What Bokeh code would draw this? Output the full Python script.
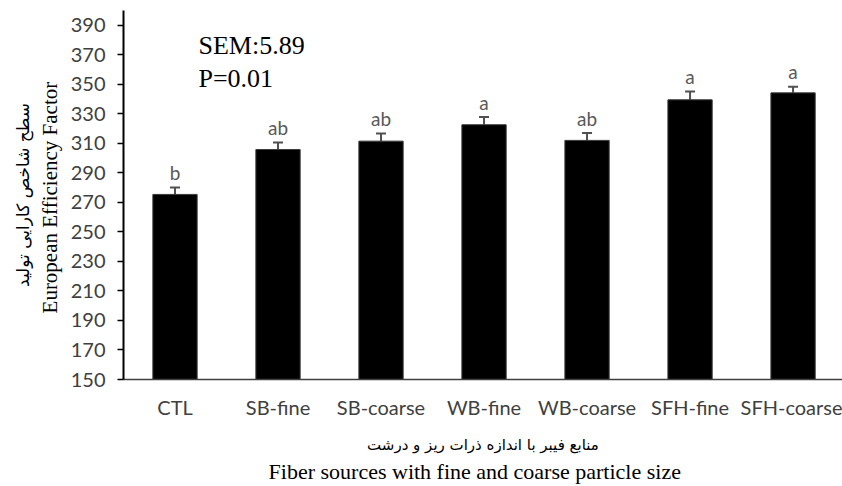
from bokeh.plotting import figure
from bokeh.models import (ColumnDataSource, Whisker, TeeHead, LinearAxis, FixedTicker,
                          Label, Range1d)
from bokeh.core.properties import value
from bokeh.embed import file_html
from bokeh.resources import INLINE

# ---- data ----
categories = ["CTL", "SB-fine", "SB-coarse", "WB-fine", "WB-coarse", "SFH-fine", "SFH-coarse"]
efficiency = [275.4, 305.8, 311.5, 322.6, 312.0, 339.5, 344.2]
sem_err = [4.7, 4.7, 5.1, 5.2, 5.0, 5.6, 4.2]
letters = ["b", "ab", "ab", "a", "ab", "a", "a"]
y_ticks = [150, 170, 190, 210, 230, 250, 270, 290, 310, 330, 350, 370, 390]
sem_text = "SEM:5.89"
p_text = "P=0.01"
y_label_en = "European Efficiency  Factor"
y_label_fa = "سطح شاخص کارایی تولید"
x_label_fa = "منابع فیبر با اندازه ذرات ریز و درشت"
x_label_en = "Fiber sources with  fine  and coarse particle  size"

idx = list(range(len(categories)))
upper = [v + e for v, e in zip(efficiency, sem_err)]
src = ColumnDataSource(dict(x=idx, top=efficiency, upper=upper, letter=letters))

SANS = "Lato"
SERIF = "Liberation Serif"
ARABIC = "DejaVu Sans"

p = figure(width=842, height=486, output_backend="svg", toolbar_location=None,
           x_range=Range1d(-0.5, 6.48), y_range=Range1d(150, 400),
           min_border_left=123, min_border_right=0, min_border_top=10, min_border_bottom=60)
p.outline_line_color = None
p.xgrid.visible = False
p.ygrid.visible = False
p.background_fill_color = "white"
p.border_fill_color = "white"

p.vbar(x="x", top="top", bottom=150, width=0.43, source=src,
       fill_color="black", line_color="#3a3a3a", line_width=1)

w = Whisker(base="x", lower="top", upper="upper", source=src, dimension="height",
            line_color="#505050", line_width=2,
            upper_head=TeeHead(size=10, line_color="#505050", line_width=2),
            lower_head=None)
p.add_layout(w)

p.text(x="x", y="upper", text="letter", source=src, text_align="center",
       text_baseline="alphabetic", y_offset=-15, text_color="#595959",
       text_font=value(SANS), text_font_size="19px")

# y axis
ya = p.yaxis[0]
ya.ticker = FixedTicker(ticks=y_ticks)
ya.axis_line_color = "black"
ya.axis_line_width = 2
ya.major_tick_line_color = "black"
ya.major_tick_line_width = 1.5
ya.major_tick_out = 6
ya.major_tick_in = 0
ya.minor_tick_line_color = None
ya.major_label_text_font = SANS
ya.major_label_text_font_size = "20px"
ya.major_label_text_color = "#404040"
ya.major_label_standoff = 12
ya.axis_label = y_label_en
ya.axis_label_text_font = SERIF
ya.axis_label_text_font_size = "21px"
ya.axis_label_text_font_style = "normal"
ya.axis_label_text_color = "black"
ya.axis_label_standoff = 6

ya2 = LinearAxis(axis_label=y_label_fa, ticker=FixedTicker(ticks=[]),
                 axis_line_color=None, major_tick_line_color=None,
                 minor_tick_line_color=None, major_label_text_font_size="0px",
                 major_label_standoff=0, major_tick_out=0, major_tick_in=0,
                 axis_label_standoff=2, axis_label_text_font=ARABIC,
                 axis_label_text_font_size="17px", axis_label_text_font_style="normal",
                 axis_label_text_color="black")
p.add_layout(ya2, "left")

# x axis
xa = p.xaxis[0]
xa.ticker = FixedTicker(ticks=idx)
xa.major_label_overrides = {i: c for i, c in zip(idx, categories)}
xa.axis_line_color = "#404040"
xa.axis_line_width = 1.5
xa.major_tick_line_color = None
xa.minor_tick_line_color = None
xa.major_tick_out = 0
xa.major_tick_in = 0
xa.major_label_text_font = SANS
xa.major_label_text_font_size = "20px"
xa.major_label_text_color = "#404040"
xa.major_label_standoff = 15
xa.axis_label = x_label_fa
xa.axis_label_text_font = ARABIC
xa.axis_label_text_font_size = "15px"
xa.axis_label_text_font_style = "normal"
xa.axis_label_text_color = "black"
xa.axis_label_standoff = 14

xa2 = LinearAxis(axis_label=x_label_en, ticker=FixedTicker(ticks=[]),
                 axis_line_color=None, major_tick_line_color=None,
                 minor_tick_line_color=None, major_label_text_font_size="0px",
                 major_label_standoff=0, major_tick_out=0, major_tick_in=0,
                 axis_label_standoff=2, axis_label_text_font=SERIF,
                 axis_label_text_font_size="22px", axis_label_text_font_style="normal",
                 axis_label_text_color="black")
p.add_layout(xa2, "below")

# annotations
p.add_layout(Label(x=0.228, y=376.4, text=sem_text, text_font=SERIF,
                   text_font_size="26px", text_color="black", text_baseline="alphabetic"))
p.add_layout(Label(x=0.228, y=354.2, text=p_text, text_font=SERIF,
                   text_font_size="26px", text_color="black", text_baseline="alphabetic"))

open("out.html", "w").write(file_html(p, INLINE))
